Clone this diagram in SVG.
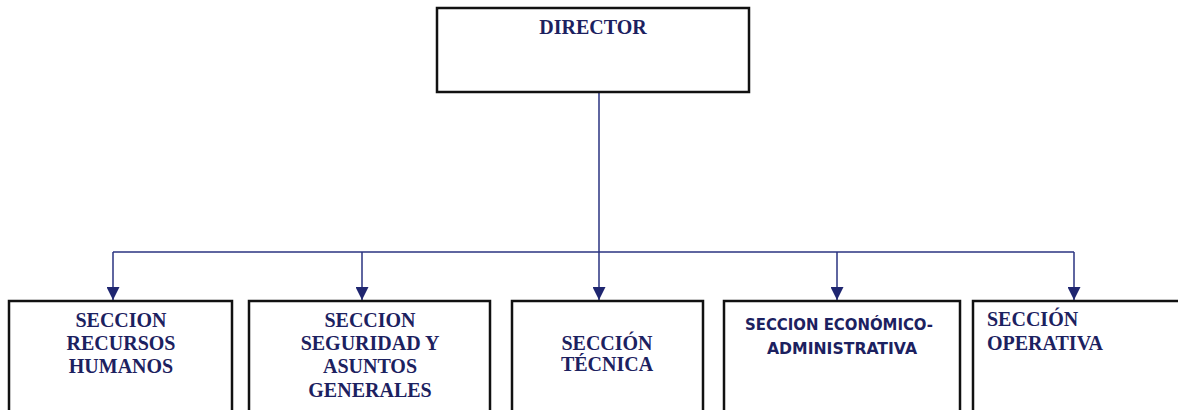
<svg xmlns="http://www.w3.org/2000/svg" width="1178" height="410" viewBox="0 0 1178 410">
<style>
.box{fill:#ffffff;stroke:#111111;stroke-width:2.5}
.t{font-family:"Liberation Serif","Times New Roman",serif;font-weight:bold;font-size:20px;fill:#1c2160}
.s{font-family:"DejaVu Sans","Liberation Sans",sans-serif;font-weight:bold;font-size:16px;fill:#1c2160}
.c{fill:none;stroke:#2a3380;stroke-width:1.5}
</style>
<defs>
<marker id="arr" viewBox="0 0 13 13" refX="13" refY="6.5" markerWidth="13" markerHeight="13" markerUnits="userSpaceOnUse" orient="auto">
<path d="M0,0 L13,6.5 L0,13 Z" fill="#1f2670"/>
</marker>
</defs>
<rect width="1178" height="410" fill="#ffffff"/>
<g id="connectors">
<path class="c" d="M599,93 V252"/>
<path class="c" d="M113,252 H1074"/>
<path class="c" d="M113,252 V300" marker-end="url(#arr)"/>
<path class="c" d="M362,252 V300" marker-end="url(#arr)"/>
<path class="c" d="M599,252 V300" marker-end="url(#arr)"/>
<path class="c" d="M837,252 V300" marker-end="url(#arr)"/>
<path class="c" d="M1074,252 V300" marker-end="url(#arr)"/>
</g>
<g id="director">
<rect class="box" x="437" y="8" width="312" height="84"/>
<text class="t" x="593" y="34" text-anchor="middle">DIRECTOR</text>
</g>
<g id="recursos-humanos">
<rect class="box" x="9" y="301" width="223" height="115"/>
<text class="t" x="121" text-anchor="middle"><tspan x="121" y="327">SECCION</tspan><tspan x="121" y="350">RECURSOS</tspan><tspan x="121" y="373">HUMANOS</tspan></text>
</g>
<g id="seguridad">
<rect class="box" x="249" y="301" width="241" height="115"/>
<text class="t" x="370" text-anchor="middle"><tspan x="370" y="327">SECCION</tspan><tspan x="370" y="350">SEGURIDAD Y</tspan><tspan x="370" y="373">ASUNTOS</tspan><tspan x="370" y="397">GENERALES</tspan></text>
</g>
<g id="tecnica">
<rect class="box" x="512" y="301" width="191" height="115"/>
<text class="t" x="607" text-anchor="middle"><tspan x="607" y="350">SECCIÓN</tspan><tspan x="607" y="371">TÉCNICA</tspan></text>
</g>
<g id="economico">
<rect class="box" x="724" y="301" width="236" height="115"/>
<text class="s" x="745" y="330" textLength="188" lengthAdjust="spacingAndGlyphs">SECCION ECONÓMICO-</text>
<text class="s" x="767" y="354" textLength="150" lengthAdjust="spacingAndGlyphs">ADMINISTRATIVA</text>
</g>
<g id="operativa">
<rect class="box" x="973" y="301" width="215" height="115"/>
<text class="t"><tspan x="987" y="326">SECCIÓN</tspan><tspan x="987" y="350">OPERATIVA</tspan></text>
</g>
</svg>
